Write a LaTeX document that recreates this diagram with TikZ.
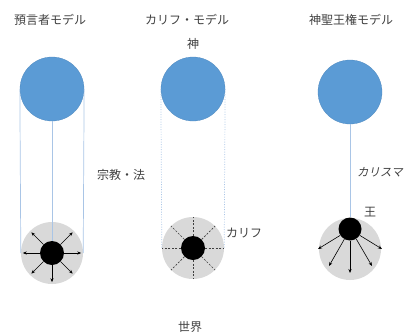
\documentclass[tikz,border=0pt]{standalone}
\usepackage{fontspec}
\newfontfamily\jp{Noto Sans CJK JP}
\newfontfamily\jpit[FakeSlant=0.2]{Noto Sans CJK JP}
\usetikzlibrary{arrows.meta}
\definecolor{godblue}{HTML}{5B9BD5}
\definecolor{linkblue}{HTML}{A9C5E6}
\definecolor{worldgray}{HTML}{D9D9D9}
\definecolor{txt}{HTML}{404040}
\tikzset{
  god/.style={circle,fill=godblue,draw=godblue!90!black,line width=0.3pt,minimum size=64pt,inner sep=0pt},
  world/.style={circle,fill=worldgray,minimum size=62pt,inner sep=0pt},
  ruler/.style={circle,fill=black,minimum size=24pt,inner sep=0pt},
  link/.style={draw=linkblue,line width=0.7pt},
  dlink/.style={draw=linkblue,line width=0.7pt,dash pattern=on 1pt off 1.5pt},
  ray/.style={draw=black,line width=0.6pt,-{Stealth[length=4pt,width=3.2pt]}},
  dray/.style={draw=black!75,line width=0.7pt,dash pattern=on 2pt off 1.5pt},
  lbl/.style={font=\jp\fontsize{12}{14}\selectfont,text=txt,inner sep=0pt},
}
\begin{document}
\begin{tikzpicture}[x=1pt,y=-1pt]
\useasboundingbox (0,0) rectangle (404,335);
% titles
\node[lbl] (t1) at (50,20) {預言者モデル};
\node[lbl] (t2) at (187,20) {カリフ・モデル};
\node[lbl] (t3) at (351,20) {神聖王権モデル};
\node[lbl] (kami) at (193,44) {神};
\node[lbl] (sekai) at (190,327) {世界};
% left model
\node[god] (g1) at (52,89) {};
\node[world] (w1) at (52,253) {};
\node[ruler] (k1) at (52,253) {};
\draw[link] (g1.west) -- (w1.west);
\draw[link] (g1.east) -- (w1.east);
\draw[link] (g1.south) -- (k1.north);
\foreach \a in {0,45,135,180,225,270,315}
  \draw[ray,shorten >=2pt] (k1.\a) -- (w1.\a);
\node[lbl,anchor=west] (rel) at (97,175) {宗教・法};
% middle model
\node[god] (g2) at (193,89) {};
\node[world] (w2) at (193,248) {};
\node[ruler] (k2) at (193,248) {};
\draw[dlink] (g2.west) -- (w2.west);
\draw[dlink] (g2.east) -- (w2.east);
\foreach \a in {0,45,...,315}
  \draw[dray] (k2.\a) -- (w2.\a);
\node[lbl,anchor=west] (caliph) at (226,233) {カリフ};
% right model
\node[god] (g3) at (350,92) {};
\node[world] (w3) at (350,249) {};
\node[ruler,minimum size=23pt] (k3) at (350,229) {};
\draw[link] (g3.south) -- (k3.north);
\coordinate (e1) at (318,249);
\coordinate (e2) at (329,266);
\coordinate (e3) at (350,273);
\coordinate (e4) at (372,266);
\coordinate (e5) at (382,249);
\draw[ray] (k3.213) -- (e1);
\draw[ray] (k3.241) -- (e2);
\draw[ray] (k3.270) -- (e3);
\draw[ray] (k3.302) -- (e4);
\draw[ray] (k3.327) -- (e5);
\node[lbl] (king) at (370,212) {王};
\node[lbl,anchor=east,font=\jpit\fontsize{11.5}{14}\selectfont] (charisma) at (403,172) {カリスマ};
\end{tikzpicture}
\end{document}
